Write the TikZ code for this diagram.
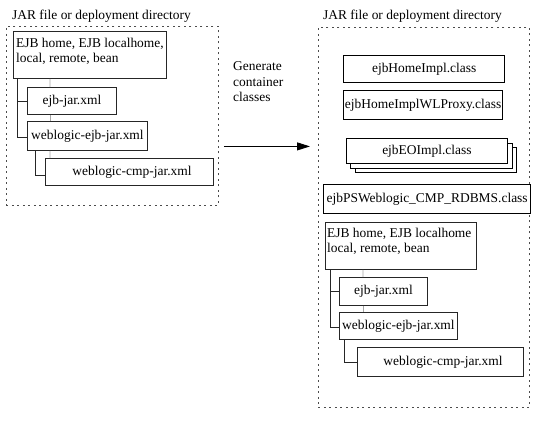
\documentclass[tikz,border=0pt]{standalone}
\usepackage{fontspec}
\setmainfont{Liberation Serif}
\usetikzlibrary{arrows.meta,shadows}
\begin{document}
\begin{tikzpicture}[x=1bp,y=-1bp,
  txt/.style={font=\fontsize{13.5}{15.5}\selectfont, inner sep=0pt},
  frame/.style={draw=black!70, line width=0.8bp, dash pattern=on 2bp off 3.5bp, inner sep=0pt, anchor=north west},
  treebox/.style={draw=black!85, line width=0.9bp, fill=white, inner sep=0pt, anchor=north west,
    font=\fontsize{13.5}{15.5}\selectfont,
    drop shadow={shadow xshift=1bp, shadow yshift=-1bp, fill=black!30, opacity=1}},
  classbox/.style={draw=black, line width=1.3bp, fill=white, inner sep=0pt, anchor=north west,
    font=\fontsize{13.5}{15.5}\selectfont},
  dark/.style={draw=black!85, line width=0.9bp},
  light/.style={draw=black!35, line width=0.9bp},
  arr/.style={draw=black, line width=0.9bp, -{Triangle[length=13bp,width=8bp]}}
]
\useasboundingbox (0,0) rectangle (535,425);

% ---------- left frame ----------
\node[txt, anchor=base west] (lt) at (12,19) {JAR file or deployment directory};
\node[frame, minimum width=212bp, minimum height=179bp] (lf) at (6,26) {};

\node[treebox, minimum width=153bp, minimum height=47bp] (b1) at (13,31) {};
\node[txt, anchor=north west, align=left] (b1t) at ([xshift=3bp,yshift=-7bp]b1.north west)
  {EJB home, EJB localhome,\\local, remote, bean};
\node[treebox, minimum width=89bp, minimum height=27bp] (ej) at (27,87) {ejb-jar.xml};
\node[treebox, minimum width=120bp, minimum height=29bp] (wej) at (27,121) {weblogic-ejb-jar.xml};
\node[treebox, minimum width=168bp, minimum height=27bp] (cmp) at (45,158) {\hspace{5bp}weblogic-cmp-jar.xml};

\draw[dark] ([xshift=4bp]b1.south west) |- (ej.west);
\draw[dark] ([xshift=4bp]b1.south west) |- ([yshift=-1.5bp]wej.west);
\draw[light] ([xshift=37bp]b1.south west) -- ([xshift=23bp]ej.north west);
\draw[light] ([xshift=23bp]ej.south west) -- ([xshift=23bp]wej.north west);
\draw[dark] ([xshift=8bp]wej.south west) |- ([yshift=-3.5bp]cmp.west);
\draw[light] ([xshift=23bp]wej.south west) -- ([xshift=5bp]cmp.north west);

% ---------- middle ----------
\node[txt, anchor=north west, align=left] (gen) at (233,61) {Generate\\[0.5bp]container\\[0.5bp]classes};

% ---------- right frame ----------
\node[txt, anchor=base west] (rt) at (323,19) {JAR file or deployment directory};
\node[frame, minimum width=211bp, minimum height=380bp] (rf) at (318,27) {};

\draw[arr] ([xshift=5bp,yshift=-30.5bp]lf.east) coordinate (s) -- ([xshift=-8bp]s -| rf.west);

\node[classbox, minimum width=161bp, minimum height=27bp] (hi) at (343,55) {ejbHomeImpl.class};
\node[classbox, minimum width=159bp, minimum height=29bp] (wlp) at (343,90) {ejbHomeImplWLProxy.class};
\node[classbox, minimum width=161.5bp, minimum height=25bp] (eo3) at (354.5,147) {};
\node[classbox, minimum width=161.5bp, minimum height=25bp] (eo2) at (350,142.5) {};
\node[classbox, minimum width=161.5bp, minimum height=25bp] (eo1) at (345.5,138) {ejbEOImpl.class};
\node[classbox, minimum width=207bp, minimum height=29bp] (ps) at (323,184) {ejbPSWeblogic\_CMP\_RDBMS.class};

\node[treebox, minimum width=151bp, minimum height=47bp] (b2) at (325,222) {};
\node[txt, anchor=north west, align=left] (b2t) at ([xshift=2bp,yshift=-6bp]b2.north west)
  {EJB home, EJB localhome\\local, remote, bean};
\node[treebox, minimum width=88bp, minimum height=28bp] (ej2) at (339,277) {ejb-jar.xml};
\node[treebox, minimum width=118bp, minimum height=27bp] (wej2) at (339,312) {weblogic-ejb-jar.xml};
\node[treebox, minimum width=166bp, minimum height=29bp] (cmp2) at (357,347) {\hspace{5bp}weblogic-cmp-jar.xml};

\draw[dark] ([xshift=5bp]b2.south west) |- (ej2.west);
\draw[dark] ([xshift=5bp]b2.south west) |- ([yshift=-1.5bp]wej2.west);
\draw[light] ([xshift=38bp]b2.south west) -- ([xshift=24bp]ej2.north west);
\draw[light] ([xshift=24bp]ej2.south west) -- ([xshift=24bp]wej2.north west);
\draw[dark] ([xshift=5bp]wej2.south west) |- (cmp2.west);
\end{tikzpicture}
\end{document}
